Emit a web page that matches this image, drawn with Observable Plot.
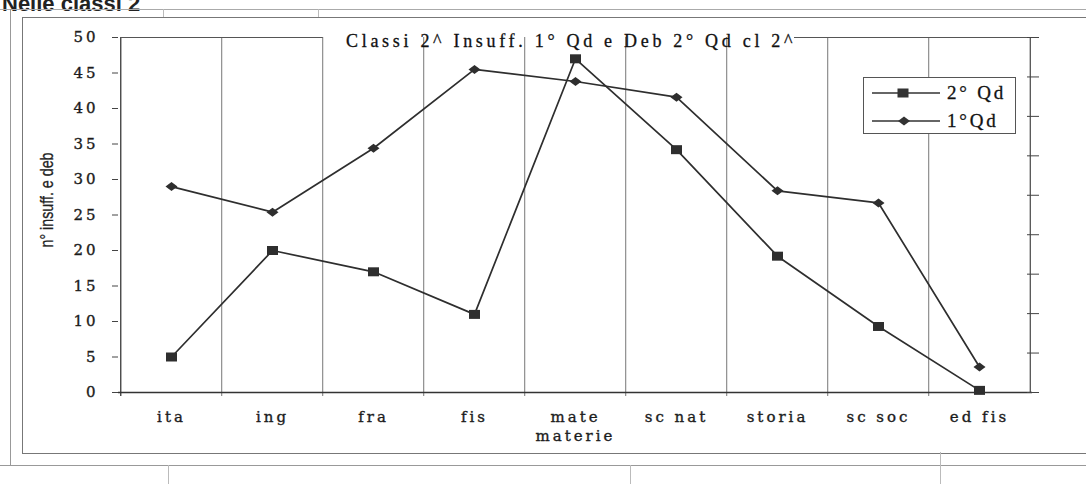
<!DOCTYPE html>
<html>
<head>
<meta charset="utf-8">
<script src="https://cdn.jsdelivr.net/npm/d3@7"></script>
<script src="https://cdn.jsdelivr.net/npm/@observablehq/plot@0.6"></script>
<style>
  html, body { margin: 0; padding: 0; background: #fff; }
  #wrap { position: relative; width: 1086px; height: 484px; overflow: hidden; background: #fff; }
  .ln { position: absolute; }
  .hdr { position: absolute; left: 2px; top: -9px; font: bold 22px "Liberation Sans", Arial, sans-serif; color: #222; white-space: nowrap; }
  .title { position: absolute; left: 346px; top: 31px; font: 18px "Liberation Serif", serif; letter-spacing: 3.7px; color: #111; white-space: nowrap; line-height: 20px; -webkit-text-stroke: 0.3px #111; }
  .legend { position: absolute; left: 863px; top: 77px; width: 151px; height: 55px; border: 1px solid #555; background: #fff; }
  .legend .row { position: absolute; left: 8px; height: 20px; display: flex; align-items: center; white-space: nowrap; font: 19px "Liberation Serif", serif; letter-spacing: 2.8px; color: #111; -webkit-text-stroke: 0.3px #111; }
  .legend svg { margin-right: 7px; }
  .ylab { position: absolute; left: 47px; top: 200px; transform: translate(-50%, -50%) rotate(-90deg) scaleX(0.75); font-family: "Liberation Sans", Arial, sans-serif; font-size: 19px; color: #222; white-space: nowrap; -webkit-text-stroke: 0.3px #222; }
  #chart { position: absolute; left: 0; top: 0; }
  #chart svg text { font-family: "DejaVu Serif", serif; stroke: #222; stroke-width: 0.35px; }
</style>
</head>
<body>
<div id="wrap">
  <div class="hdr">Nelle classi 2</div>
  <!-- scanned sheet frame lines -->
  <div class="ln" style="left:0;top:9px;width:1086px;border-top:1px solid #aaa"></div>
  <div class="ln" style="left:10px;top:9px;height:456px;border-left:1px solid #999"></div>
  <div class="ln" style="left:163px;top:9px;height:8px;border-left:1px solid #bbb"></div>
  <div class="ln" style="left:318px;top:9px;height:8px;border-left:1px solid #bbb"></div>
  <div class="ln" style="left:22px;top:17px;width:1100px;height:435px;border:1px solid #777"></div>
  <div class="ln" style="left:0;top:465px;width:1086px;border-top:1px solid #999"></div>
  <div class="ln" style="left:168px;top:465px;height:19px;border-left:1px solid #bbb"></div>
  <div class="ln" style="left:630px;top:465px;height:19px;border-left:1px solid #bbb"></div>
  <div class="ln" style="left:940px;top:452px;height:32px;border-left:1px solid #bbb"></div>
  <div id="chart"></div>
  <div class="title">Classi 2^ Insuff. 1° Qd e Deb 2° Qd cl 2^</div>
  <div class="legend">
    <div class="row" style="top:5px"><svg width="68" height="14"><line x1="0" y1="7" x2="68" y2="7" stroke="#333" stroke-width="1.6"/><rect x="25.5" y="2.5" width="11" height="9" fill="#333"/></svg>2° Qd</div>
    <div class="row" style="top:33px"><svg width="68" height="14"><line x1="0" y1="7" x2="68" y2="7" stroke="#333" stroke-width="1.6"/><path d="M26,7L32,2.5L38,7L32,11.5Z" fill="#333"/></svg>1°Qd</div>
  </div>
  <div class="ylab">n° insuff. e deb</div>
</div>
<script>
// ---- data ----
const categories = ["ita", "ing", "fra", "fis", "mate", "sc nat", "storia", "sc soc", "ed fis"];
const seriesNames = ["2° Qd", "1°Qd"];
const qd2 = [5, 20, 17, 11, 47, 34.2, 19.2, 9.3, 0.3];
const qd1 = [29, 25.4, 34.4, 45.5, 43.8, 41.6, 28.4, 26.7, 3.6];
const yTicks = [0, 5, 10, 15, 20, 25, 30, 35, 40, 45, 50];
const rightTicks = d3.range(10).map(i => i * 50 / 9);

// ---- build table ----
const rows2 = categories.map((c, i) => ({cat: c, value: qd2[i], series: seriesNames[0]}));
const rows1 = categories.map((c, i) => ({cat: c, value: qd1[i], series: seriesNames[1]}));
const rows = rows2.concat(rows1);

const W = 1086, H = 484, mL = 118, mR = 54, mT = 37, mB = 92;
const step = (W - mL - mR) / categories.length;

const squareSym = {draw(ctx, size) { const r = Math.sqrt(size / Math.PI); const w = r * 1.1, h = r * 0.9; ctx.moveTo(-w, -h); ctx.lineTo(w, -h); ctx.lineTo(w, h); ctx.lineTo(-w, h); ctx.closePath(); }};
const diamondSym = {draw(ctx, size) { const r = Math.sqrt(size / Math.PI); const w = r * 1.2, h = r * 0.9; ctx.moveTo(-w, 0); ctx.lineTo(0, -h); ctx.lineTo(w, 0); ctx.lineTo(0, h); ctx.closePath(); }};

const serif = "DejaVu Serif";

const chart = Plot.plot({
  width: W, height: H,
  marginLeft: mL, marginRight: mR, marginTop: mT, marginBottom: mB,
  style: {background: "transparent", color: "#222", fontSize: "15px", letterSpacing: "3px"},
  x: {type: "point", domain: categories, padding: 0.5},
  y: {domain: [0, 50]},
  marks: [
    // vertical gridlines at category boundaries
    Plot.ruleX(categories, {x: d => d, dx: -step / 2, insetBottom: -4, stroke: "#777", strokeWidth: 1}),
    Plot.ruleX([categories[0]], {x: d => d, dx: -step / 2, insetBottom: -4, stroke: "#444", strokeWidth: 1.2}),
    Plot.ruleX([categories[categories.length - 1]], {x: d => d, dx: step / 2, stroke: "#444", strokeWidth: 1.2}),
    // top border (interrupted by title)
    Plot.ruleY([50], {x1: () => "ita", x2: () => "ing", insetLeft: -step / 2, insetRight: -step / 2, stroke: "#555"}),
    Plot.ruleY([50], {x1: () => "storia", x2: () => "ed fis", insetLeft: 17, insetRight: -step / 2, stroke: "#555"}),
    // baseline
    Plot.ruleY([0], {stroke: "#333", strokeWidth: 1.4}),
    // left axis
    Plot.axisY(yTicks, {anchor: "left", tickSize: 6, tickPadding: 14, stroke: "#444", fill: "#1a1a1a", fontFamily: serif, label: null}),
    // right secondary axis ticks
    Plot.axisY(rightTicks, {anchor: "right", tickSize: 12, dx: -6, tickFormat: () => "", stroke: "#444", label: null}),
    // x axis labels
    Plot.axisX({tickSize: 0, tickPadding: 19, fill: "#1a1a1a", fontFamily: serif, label: null}),
    Plot.text(["materie"], {frameAnchor: "bottom", dy: 48, text: d => d, fill: "#1a1a1a", fontSize: 15, fontFamily: serif}),
    // data
    Plot.line(rows, {x: "cat", y: "value", z: "series", stroke: "#2e2e2e", strokeWidth: 1.7}),
    Plot.dot(rows2, {x: "cat", y: "value", symbol: squareSym, r: 5, fill: "#2e2e2e", stroke: "none"}),
    Plot.dot(rows1, {x: "cat", y: "value", symbol: diamondSym, r: 5, fill: "#2e2e2e", stroke: "none"})
  ]
});
document.getElementById("chart").appendChild(chart);
</script>
</body>
</html>
